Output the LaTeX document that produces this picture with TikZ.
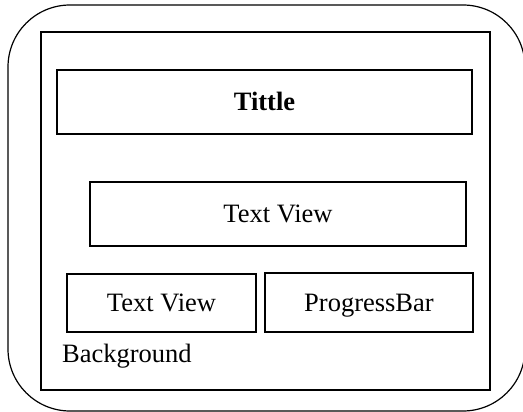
\documentclass[tikz,border=0pt]{standalone}
\usepackage{fontspec}
\setmainfont{Liberation Serif}
\begin{document}
\begin{tikzpicture}[x=1pt,y=-1pt,
  frame/.style={draw=black,line width=1.2pt},
  box/.style={draw=black,line width=1.2pt,rectangle,inner sep=0pt,
    font=\fontsize{26.5}{31}\selectfont,text height=17.5pt,text depth=0pt},
  lbl/.style={inner sep=0pt,font=\fontsize{26.5}{31}\selectfont,anchor=base west}]
\useasboundingbox (0,0) rectangle (523,412);
\begin{scope}
\clip (0,0) rectangle (523,412);
\draw[frame,rounded corners=62pt] (8,5) rectangle (525,411);
\end{scope}
\node[frame,rectangle,inner sep=0pt,minimum width=449pt,minimum height=358pt] (inner) at (265.5,211) {};
\node[box,minimum width=415pt,minimum height=64pt] (title) at (264.5,102) {\bfseries Tittle};
\node[box,minimum width=376pt,minimum height=64pt] (tv1) at (278,214) {Text View};
\node[box,minimum width=189pt,minimum height=58pt] (tv2) at (161.5,303) {Text View};
\node[box,minimum width=208pt,minimum height=59pt] (pb) at (369,302.5) {ProgressBar};
\node[lbl] (bg) at (62,362) {Background};
\end{tikzpicture}
\end{document}
